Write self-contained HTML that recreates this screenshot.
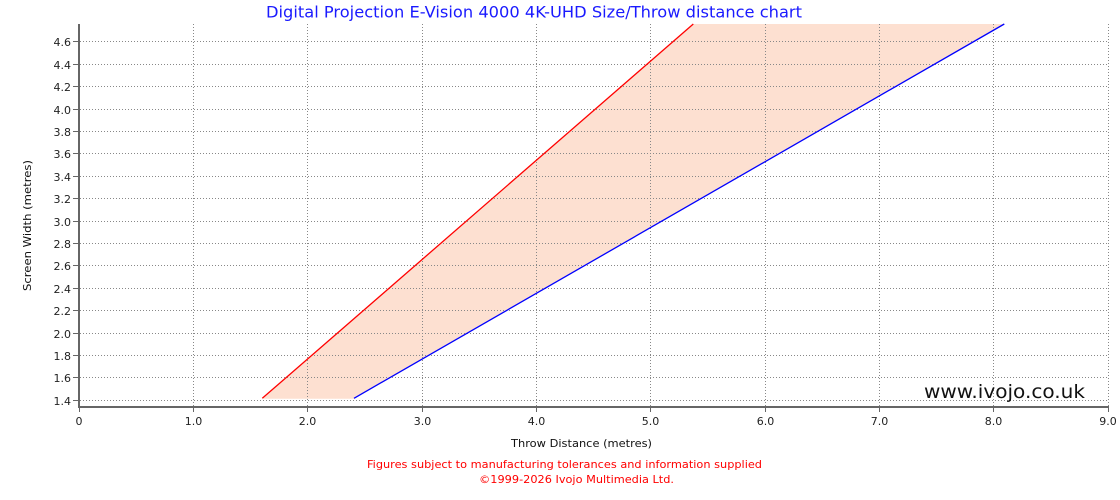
<!DOCTYPE html>
<html><head><meta charset="utf-8"><style>
html,body{margin:0;padding:0;background:#fff;}
svg{display:block;}
text{font-family:"DejaVu Sans","Liberation Sans",sans-serif;}
</style></head><body>
<svg width="1120" height="500" viewBox="0 0 1120 500" xmlns="http://www.w3.org/2000/svg">
<rect width="1120" height="500" fill="#fff"/>
<!-- fill -->
<polygon points="262.3,398.8 693.3,24 1004.3,24 354,398.8" fill="#fde0d1"/>
<!-- grid -->
<g stroke="#888" stroke-width="1" stroke-dasharray="1,2" fill="none">
<line x1="80" y1="400.5" x2="1108" y2="400.5"/>
<line x1="80" y1="377.5" x2="1108" y2="377.5"/>
<line x1="80" y1="355.5" x2="1108" y2="355.5"/>
<line x1="80" y1="333.5" x2="1108" y2="333.5"/>
<line x1="80" y1="310.5" x2="1108" y2="310.5"/>
<line x1="80" y1="288.5" x2="1108" y2="288.5"/>
<line x1="80" y1="265.5" x2="1108" y2="265.5"/>
<line x1="80" y1="243.5" x2="1108" y2="243.5"/>
<line x1="80" y1="221.5" x2="1108" y2="221.5"/>
<line x1="80" y1="198.5" x2="1108" y2="198.5"/>
<line x1="80" y1="176.5" x2="1108" y2="176.5"/>
<line x1="80" y1="153.5" x2="1108" y2="153.5"/>
<line x1="80" y1="131.5" x2="1108" y2="131.5"/>
<line x1="80" y1="109.5" x2="1108" y2="109.5"/>
<line x1="80" y1="86.5" x2="1108" y2="86.5"/>
<line x1="80" y1="64.5" x2="1108" y2="64.5"/>
<line x1="80" y1="41.5" x2="1108" y2="41.5"/>
<line x1="193.5" y1="24" x2="193.5" y2="406"/>
<line x1="307.5" y1="24" x2="307.5" y2="406"/>
<line x1="422.5" y1="24" x2="422.5" y2="406"/>
<line x1="536.5" y1="24" x2="536.5" y2="406"/>
<line x1="650.5" y1="24" x2="650.5" y2="406"/>
<line x1="765.5" y1="24" x2="765.5" y2="406"/>
<line x1="879.5" y1="24" x2="879.5" y2="406"/>
<line x1="993.5" y1="24" x2="993.5" y2="406"/>
<line x1="1108.5" y1="24" x2="1108.5" y2="406"/>
</g>
<!-- series -->
<line x1="262.3" y1="398.3" x2="693.3" y2="24" stroke="#f00" stroke-width="1.3"/>
<line x1="354" y1="398.3" x2="1004.3" y2="24" stroke="#00f" stroke-width="1.3"/>
<!-- axes -->
<g stroke="#666">
<line x1="79" y1="24" x2="79" y2="408" stroke-width="2"/>
<line x1="78" y1="407" x2="1109" y2="407" stroke-width="2"/>
</g>
<g stroke="#666" stroke-width="1">
<line x1="73" y1="400.5" x2="78" y2="400.5"/>
<line x1="73" y1="377.5" x2="78" y2="377.5"/>
<line x1="73" y1="355.5" x2="78" y2="355.5"/>
<line x1="73" y1="333.5" x2="78" y2="333.5"/>
<line x1="73" y1="310.5" x2="78" y2="310.5"/>
<line x1="73" y1="288.5" x2="78" y2="288.5"/>
<line x1="73" y1="265.5" x2="78" y2="265.5"/>
<line x1="73" y1="243.5" x2="78" y2="243.5"/>
<line x1="73" y1="221.5" x2="78" y2="221.5"/>
<line x1="73" y1="198.5" x2="78" y2="198.5"/>
<line x1="73" y1="176.5" x2="78" y2="176.5"/>
<line x1="73" y1="153.5" x2="78" y2="153.5"/>
<line x1="73" y1="131.5" x2="78" y2="131.5"/>
<line x1="73" y1="109.5" x2="78" y2="109.5"/>
<line x1="73" y1="86.5" x2="78" y2="86.5"/>
<line x1="73" y1="64.5" x2="78" y2="64.5"/>
<line x1="73" y1="41.5" x2="78" y2="41.5"/>
<line x1="79.5" y1="408" x2="79.5" y2="412"/>
<line x1="193.5" y1="408" x2="193.5" y2="412"/>
<line x1="307.5" y1="408" x2="307.5" y2="412"/>
<line x1="422.5" y1="408" x2="422.5" y2="412"/>
<line x1="536.5" y1="408" x2="536.5" y2="412"/>
<line x1="650.5" y1="408" x2="650.5" y2="412"/>
<line x1="765.5" y1="408" x2="765.5" y2="412"/>
<line x1="879.5" y1="408" x2="879.5" y2="412"/>
<line x1="993.5" y1="408" x2="993.5" y2="412"/>
<line x1="1108.5" y1="408" x2="1108.5" y2="412"/>
</g>
<!-- y tick labels -->
<g font-size="11" fill="#222" text-anchor="end">
<text x="71" y="405">1.4</text>
<text x="71" y="382">1.6</text>
<text x="71" y="360">1.8</text>
<text x="71" y="338">2.0</text>
<text x="71" y="315">2.2</text>
<text x="71" y="293">2.4</text>
<text x="71" y="270">2.6</text>
<text x="71" y="248">2.8</text>
<text x="71" y="226">3.0</text>
<text x="71" y="203">3.2</text>
<text x="71" y="181">3.4</text>
<text x="71" y="158">3.6</text>
<text x="71" y="136">3.8</text>
<text x="71" y="114">4.0</text>
<text x="71" y="91">4.2</text>
<text x="71" y="69">4.4</text>
<text x="71" y="46">4.6</text>
</g>
<!-- x tick labels -->
<g font-size="11" fill="#222" text-anchor="middle">
<text x="79" y="425">0</text>
<text x="193.5" y="425">1.0</text>
<text x="307.5" y="425">2.0</text>
<text x="422.5" y="425">3.0</text>
<text x="536.5" y="425">4.0</text>
<text x="650.5" y="425">5.0</text>
<text x="765.5" y="425">6.0</text>
<text x="879.5" y="425">7.0</text>
<text x="993.5" y="425">8.0</text>
<text x="1108" y="425">9.0</text>
</g>
<!-- title -->
<text x="266" y="17.5" font-size="16" fill="#1a1aff" textLength="536" lengthAdjust="spacingAndGlyphs">Digital Projection E-Vision 4000 4K-UHD Size/Throw distance chart</text>
<!-- axis labels -->
<text x="511" y="447" font-size="11" fill="#111" textLength="141" lengthAdjust="spacingAndGlyphs">Throw Distance (metres)</text>
<text transform="translate(31,291) rotate(-90)" font-size="11" fill="#111" textLength="131" lengthAdjust="spacingAndGlyphs">Screen Width (metres)</text>
<!-- watermark -->
<text x="924" y="398" font-size="19" fill="#111" textLength="161" lengthAdjust="spacingAndGlyphs">www.ivojo.co.uk</text>
<!-- footer -->
<text x="367" y="468" font-size="11" fill="#f00" textLength="395" lengthAdjust="spacingAndGlyphs">Figures subject to manufacturing tolerances and information supplied</text>
<text x="479" y="483" font-size="11" fill="#f00" textLength="195" lengthAdjust="spacingAndGlyphs">©1999-2026 Ivojo Multimedia Ltd.</text>
</svg>
</body></html>
